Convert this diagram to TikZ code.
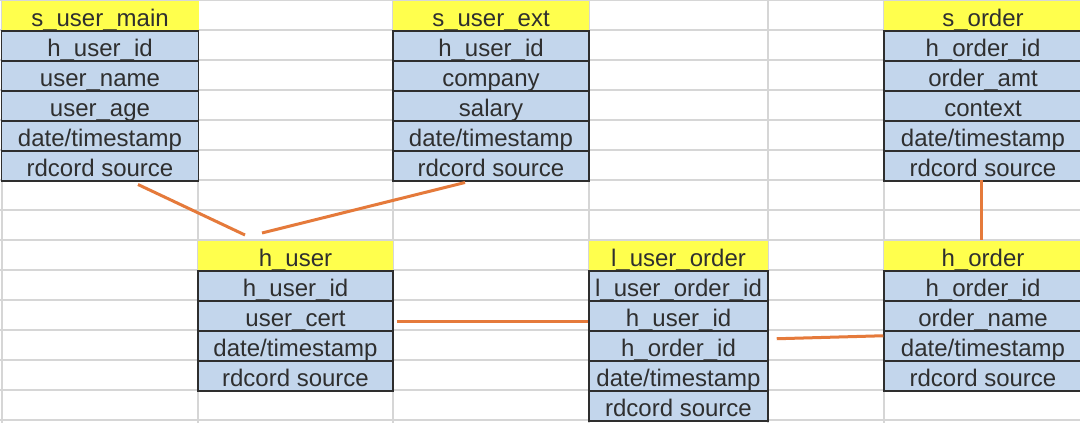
\documentclass[tikz,border=0pt]{standalone}
\usepackage{fontspec}
\setmainfont{Liberation Sans}
\definecolor{hdr}{HTML}{FFFF4D}
\definecolor{cellblue}{HTML}{C3D6EC}
\definecolor{cellline}{HTML}{2E2E2E}
\definecolor{txt}{HTML}{2F2F2F}
\definecolor{gridc}{HTML}{D6D6D6}
\definecolor{linkc}{HTML}{E57A3B}
\tikzset{
  cell/.style={rectangle, draw=cellline, line width=1.5pt, fill=cellblue,
    inner sep=0pt, minimum height=30pt, text height=26pt, text depth=4pt,
    font=\fontsize{24}{24}\selectfont, text=txt, anchor=north},
  head/.style={cell, draw=none, fill=hdr},
  linkline/.style={draw=linkc, line width=3pt},
  gridline/.style={draw=gridc, line width=1.5pt}
}
\newcommand\dvtab[6]{%
  \node[head, minimum width=#4pt] (#1-0) at (#2pt,-#3pt) {#5};
  \foreach \t [count=\i] in {#6} {
    \node[cell, minimum width=#4pt] (#1-\i) at (#2pt,{-(#3+30*\i)*1pt}) {\t};
  }%
}
\begin{document}
\begin{tikzpicture}[x=1pt,y=1pt]
\useasboundingbox (0,0) rectangle (1080,-423);
\fill[white] (0,0) rectangle (1080,-423);
% spreadsheet grid
\foreach \gx in {2,198,393,589,768,884} \draw[gridline] (\gx,0) -- (\gx,-423);
\foreach \gy in {0,30,...,420} \draw[gridline] (0,-\gy) -- (1080,-\gy);
% tables
\dvtab{sum}{100}{0}{197}{s\_user\_main}{h\_user\_id,user\_name,user\_age,date/timestamp,rdcord source}
\dvtab{sue}{491}{0}{196}{s\_user\_ext}{h\_user\_id,company,salary,date/timestamp,rdcord source}
\dvtab{so}{983}{0}{198}{s\_order}{h\_order\_id,order\_amt,context,date/timestamp,rdcord source}
\dvtab{hu}{295.5}{240}{195}{h\_user}{h\_user\_id,user\_cert,date/timestamp,rdcord source}
\dvtab{luo}{678.5}{240}{179}{l\_user\_order}{l\_user\_order\_id,h\_user\_id,h\_order\_id,date/timestamp,rdcord source}
\dvtab{ho}{983}{240}{198}{h\_order}{h\_order\_id,order\_name,date/timestamp,rdcord source}
% connectors
\draw[linkline] ([xshift=38pt,yshift=-3pt]sum-5.south) -- ([xshift=-50.5pt,yshift=5pt]hu-0.north);
\draw[linkline] ([xshift=-26pt,yshift=-1pt]sue-5.south) -- ([xshift=-33.5pt,yshift=7pt]hu-0.north);
\draw[linkline] ([xshift=3pt,yshift=-6pt]hu-2.east) -- ([yshift=-6pt]luo-2.west);
\draw[linkline] ([xshift=8pt,yshift=7pt]luo-3.east) -- ([yshift=10pt]ho-3.west);
\draw[linkline] ([xshift=-2pt,yshift=2pt]so-5.south) -- ([xshift=-2pt]ho-0.north);
\end{tikzpicture}
\end{document}
